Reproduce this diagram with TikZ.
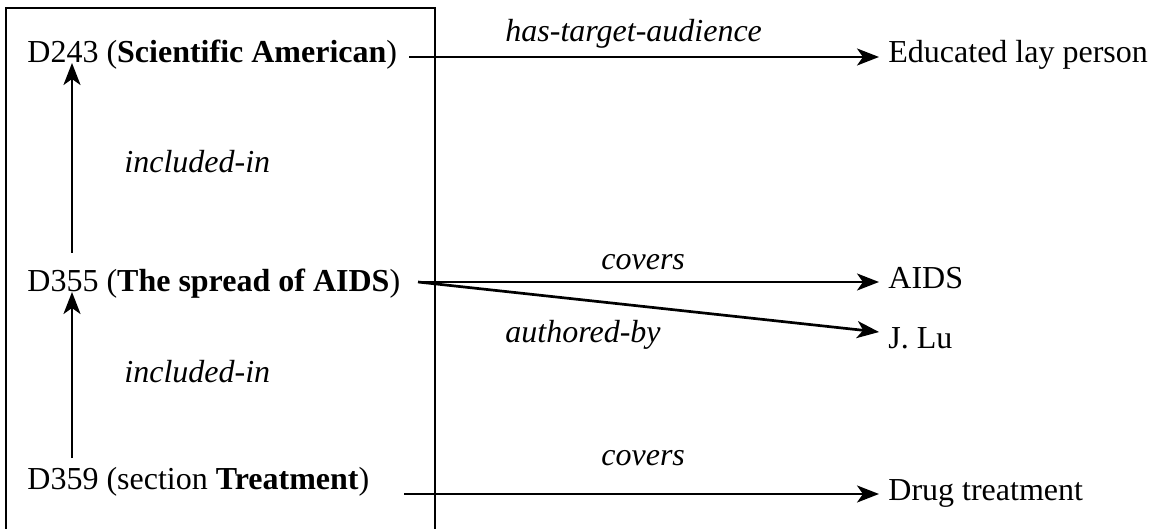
\documentclass[tikz,border=0pt]{standalone}
\usepackage{fontspec}
\setmainfont{Liberation Serif}
\usetikzlibrary{arrows.meta}
\begin{document}
\begin{tikzpicture}[x=0.5pt,y=-0.5pt,
  lbl/.style={font=\fontsize{16pt}{19pt}\selectfont, inner sep=0pt, anchor=base west},
  rel/.style={lbl, font=\fontsize{16pt}{19pt}\selectfont\itshape},
  link/.style={line width=1.35pt, shorten >=4.5pt, -{Stealth[length=11pt,width=8.5pt,inset=3pt]}},
  uplink/.style={line width=1.35pt, -{Stealth[length=11pt,width=8.5pt,inset=3pt]}},
  frame/.style={line width=1.35pt}]
\useasboundingbox (0,0) rectangle (1152,529);

% open frame around the document entities
\draw[frame] (6,529) |- (435,8) -- (435,529);

% document entities
\node[lbl] (d243) at (27,63)  {D243 (\textbf{Scientific American})};
\node[lbl] (d355) at (27,292) {D355 (\textbf{The spread of AIDS})};
\node[lbl] (d359) at (27,489) {D359 (section \textbf{Treatment})};

% related values
\node[lbl] (edu)  at (888,63)  {Educated lay person};
\node[lbl] (aids) at (888,289) {AIDS};
\node[lbl] (lu)   at (888,349) {J. Lu};
\node[lbl] (drug) at (888,500) {Drug treatment};

% relation labels
\node[rel] (r1) at (505,42)  {has-target-audience};
\node[rel] (r2) at (124,173) {included-in};
\node[rel] (r3) at (601,270) {covers};
\node[rel] (r4) at (505,343) {authored-by};
\node[rel] (r5) at (124,383) {included-in};
\node[rel] (r6) at (601,466) {covers};

% connector end points
\coordinate (s1) at (409,57);
\coordinate (s2) at (418,282);
\coordinate (s3) at (404,494);
\coordinate (u1) at (72,253);
\coordinate (u2) at (72,458);
\coordinate (t2) at (888,333);

% connectors
\draw[link] (s1) -- (s1 -| edu.west);
\draw[link] (s2) -- (s2 -| aids.west);
\draw[link] (s2) -- (t2 -| lu.west);
\draw[link] (s3) -- (s3 -| drug.west);
\draw[uplink] (u1) -- (u1 |- d243.base);
\draw[uplink] (u2) -- (u2 |- d355.base);
\end{tikzpicture}
\end{document}
